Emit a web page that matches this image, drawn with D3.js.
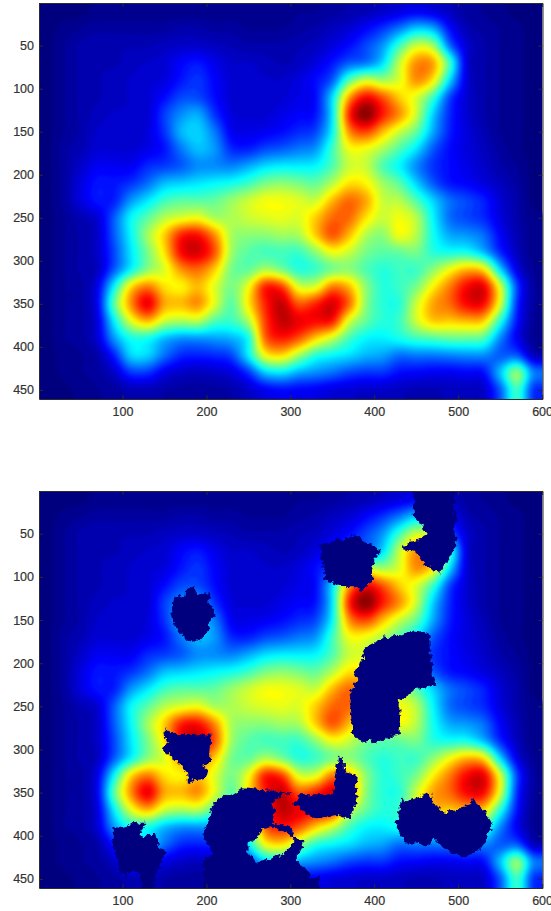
<!DOCTYPE html>
<html>
<head>
<meta charset="utf-8">
<script src="https://cdn.jsdelivr.net/npm/d3@7"></script>
<style>
  html, body { margin: 0; padding: 0; background: #fff; }
  svg { display: block; }
  .tick text { font-family: "Liberation Sans", sans-serif; font-size: 12.5px; fill: #333; stroke: #333; stroke-width: 0.2px; }
  .tick line, .domain { stroke: #2b2b2b; }
</style>
</head>
<body>
<svg id="chart" width="551" height="911"></svg>
<script>
// heat values, 0-100 on the jet scale
// one row every 20 units of y (10..450), one column every 20 units of x (10..590)
const heatRows = [
  [1,1,1,2,2,2,2,2,2,2,2,2,2,2,2,3,3,4,5,6,8,10,12,10,7,4,3,2,1,1],
  [1,2,3,4,4,4,4,4,5,5,4,4,3,3,3,4,5,7,9,13,18,25,33,30,14,6,4,3,2,1],
  [1,3,5,6,6,6,6,7,8,8,7,6,5,5,5,6,7,10,14,20,28,44,58,54,24,9,5,3,2,1],
  [1,3,5,6,6,7,8,9,13,15,11,8,8,7,6,7,10,15,22,25,35,57,74,72,44,10,5,3,2,1],
  [1,3,5,6,7,8,9,10,15,18,13,9,8,8,8,10,14,22,46,58,54,60,74,65,35,10,5,3,2,1],
  [1,3,5,6,7,8,9,14,20,20,14,9,8,8,9,11,14,35,72,88,80,68,60,44,20,9,5,3,2,1],
  [1,3,5,7,8,8,9,19,27,30,18,10,9,9,11,13,15,36,84,100,86,74,58,34,17,9,5,3,2,1],
  [1,3,5,8,8,8,10,18,31,34,25,12,11,12,14,17,20,38,74,82,70,58,48,30,16,10,6,3,2,1],
  [1,4,6,9,9,9,11,15,25,32,28,17,16,20,22,25,28,44,62,62,55,46,36,22,14,10,7,4,2,1],
  [1,4,8,12,12,12,17,19,22,27,27,26,30,35,37,37,38,46,58,58,46,38,27,18,14,11,8,5,3,1],
  [1,4,10,15,15,18,24,32,34,36,38,40,44,50,52,50,48,56,66,64,54,47,34,22,15,13,10,7,4,1],
  [1,4,10,15,16,28,36,44,47,47,48,53,58,62,62,60,58,70,78,72,58,56,46,34,24,20,16,9,5,1],
  [1,3,6,9,22,38,47,56,60,62,55,55,58,60,61,60,68,78,78,66,58,62,56,38,24,20,17,10,5,2],
  [1,3,5,8,22,38,54,68,85,87,74,55,52,52,54,55,68,80,70,56,52,62,56,40,30,28,24,13,6,2],
  [1,3,5,8,20,36,50,66,88,92,80,54,47,45,45,44,52,62,58,50,47,48,50,42,40,40,32,17,7,2],
  [1,3,5,7,22,38,52,60,74,78,68,50,48,55,50,42,44,50,52,46,42,44,44,52,62,70,66,35,11,3],
  [1,3,4,11,38,66,76,66,64,70,60,50,62,85,82,60,60,76,70,52,42,44,50,64,76,88,90,60,20,4],
  [1,3,4,12,47,74,90,72,70,74,60,47,65,85,94,80,85,92,78,52,42,42,58,72,78,88,88,60,18,4],
  [1,3,4,10,37,60,70,58,55,56,46,44,55,82,94,90,88,86,60,48,42,44,58,68,68,70,68,42,15,3],
  [1,3,4,9,28,40,40,32,28,28,29,31,40,78,86,80,68,58,45,38,37,40,44,46,48,48,46,27,12,3],
  [1,2,3,5,16,34,34,24,17,16,17,20,37,62,66,54,42,38,35,31,29,24,25,25,26,27,27,22,22,7],
  [1,2,3,4,8,18,18,11,8,7,8,10,18,33,36,30,27,24,20,18,18,14,13,12,12,13,14,32,52,26],
  [0,1,2,3,4,6,6,5,4,4,4,5,8,12,14,13,12,10,9,8,8,7,6,6,7,7,8,22,44,18]
];

const xTicks = [100, 200, 300, 400, 500, 600];
const yTicks = [50, 100, 150, 200, 250, 300, 350, 400, 450];

// removed regions of the lower image, outlines in image coordinates
const regionTopBox = [[335,64],[345,61],[355,57],[367,56],[379,51],[382,56],[385,58],[396,63],[408,70],[403,74],[400,81],[398,86],[396,91],[398,102],[392,110],[385,116],[378,112],[369,112],[355,108],[341,104],[339,92],[337,81]];
const regionTopRight = [[446,-6],[497,-6],[495,12],[494,23],[498,29],[499,35],[495,39],[496,50],[498,64],[493,70],[492,75],[484,85],[478,95],[474,92],[470,93],[462,86],[454,81],[452,75],[450,71],[442,70],[434,68],[437,63],[440,60],[450,58],[462,52],[458,47],[459,44],[454,35],[449,33],[447,27],[448,12]];
const regionCentre = [[412,168],[420,170],[425,167],[434,168],[440,165],[446,162],[455,163],[466,168],[466,180],[468,193],[469,205],[470,216],[474,225],[462,228],[450,230],[448,232],[438,238],[428,243],[430,252],[430,259],[434,261],[430,264],[431,272],[430,282],[418,286],[410,290],[402,293],[394,290],[386,292],[380,288],[373,280],[374,268],[371,255],[372,243],[370,232],[371,230],[376,226],[381,220],[375,213],[380,205],[388,193],[386,188],[388,184],[396,178],[406,174]];
const regionRight = [[432,357],[440,360],[448,357],[456,354],[466,349],[468,356],[470,363],[477,366],[484,375],[490,370],[497,373],[504,367],[512,365],[518,356],[523,365],[532,372],[541,385],[538,392],[537,398],[531,410],[526,417],[517,420],[508,425],[495,421],[482,414],[476,407],[470,404],[466,411],[462,412],[450,409],[438,409],[432,400],[424,385],[429,378],[430,371]];
const regionBottom = [[243,345],[267,347],[291,349],[299,350],[305,352],[351,352],[353,332],[357,307],[365,313],[365,325],[379,330],[378,345],[379,357],[375,370],[371,381],[357,376],[343,377],[331,381],[319,373],[307,365],[301,365],[311,357],[307,352],[291,351],[277,363],[281,371],[279,385],[299,388],[305,402],[317,406],[309,421],[309,431],[321,439],[325,448],[335,448],[335,468],[196,468],[196,444],[196,429],[208,421],[201,410],[196,398],[203,382],[206,367],[213,358],[220,354],[232,352]];
const regionBottomHole = [[249,410],[259,404],[267,392],[277,390],[295,396],[305,406],[291,421],[275,427],[271,429],[259,431],[249,419]];
const regionLeft = [[89,390],[100,391],[110,388],[112,383],[120,385],[128,385],[124,392],[120,398],[126,404],[132,398],[140,398],[142,406],[144,414],[152,417],[148,427],[144,437],[138,448],[138,468],[126,468],[122,449],[116,442],[106,442],[104,450],[98,441],[94,431],[91,421],[87,408],[90,400]];
const regionMiddle = [[153,274],[156,280],[160,282],[182,282],[206,283],[205,299],[204,315],[196,319],[201,323],[198,334],[184,336],[178,340],[177,327],[170,318],[160,311],[148,301],[153,292],[150,282]];
const regionUpperLeft = [[162,123],[168,122],[175,124],[176,114],[186,112],[188,120],[197,117],[206,122],[202,127],[207,135],[211,143],[208,147],[204,151],[204,160],[197,168],[190,175],[183,175],[176,174],[169,166],[162,156],[159,147],[157,141],[160,131]];

const removedRegions = [
  [regionTopBox], [regionTopRight], [regionCentre], [regionRight],
  [regionBottom, regionBottomHole], [regionLeft], [regionMiddle], [regionUpperLeft]
];

const jetStops = [0, 12.5, 37.5, 62.5, 87.5, 100];
const jetColors = ['#00007f', '#0000ff', '#00ffff', '#ffff00', '#ff0000', '#7f0000'];

let jet = d3.scaleLinear().domain(jetStops).range(jetColors).interpolate(d3.interpolateRgb);
let x = d3.scaleLinear().domain([0.5, 600.5]).range([39, 542.5]);

let svg = d3.select('#chart');
let defs = svg.append('defs');

defs.append('filter').attr('id', 'soften')
  .append('feGaussianBlur')
  .attr('stdDeviation', 1.5)
  .attr('color-interpolation-filters', 'sRGB');

// frayed edge for the removed regions
let rough = defs.append('filter').attr('id', 'rough')
  .attr('x', '-5%').attr('y', '-5%').attr('width', '110%').attr('height', '110%')
  .attr('color-interpolation-filters', 'sRGB');
rough.append('feTurbulence')
  .attr('type', 'fractalNoise').attr('baseFrequency', 0.22).attr('numOctaves', 2).attr('seed', 4)
  .attr('result', 'noise');
rough.append('feDisplacementMap')
  .attr('in', 'SourceGraphic').attr('in2', 'noise').attr('scale', 7)
  .attr('xChannelSelector', 'R').attr('yChannelSelector', 'G');

// repeat the outer rows and columns so the contours run past the frame
const pad = 2;
let paddedRows = d3.range(-pad, heatRows.length + pad).map((r) => {
  let row = heatRows[Math.max(0, Math.min(heatRows.length - 1, r))];
  return d3.range(-pad, row.length + pad).map((c) => row[Math.max(0, Math.min(row.length - 1, c))]);
});

// catmull-rom resampling, only to draw the coarse table as a smooth surface
const factor = 5;
function resample(values) {
  let out = [];
  for (let i = 0; i < values.length - 1; i++) {
    let p0 = values[Math.max(0, i - 1)], p1 = values[i], p2 = values[i + 1];
    let p3 = values[Math.min(values.length - 1, i + 2)];
    for (let k = 0; k < factor; k++) {
      let t = k / factor;
      out.push(0.5 * (2 * p1 + (p2 - p0) * t + (2 * p0 - 5 * p1 + 4 * p2 - p3) * t * t + (3 * p1 - p0 - 3 * p2 + p3) * t * t * t));
    }
  }
  out.push(values[values.length - 1]);
  return out;
}
let fineRows = paddedRows.map(resample);
let fineCols = d3.range(fineRows[0].length).map((c) => resample(fineRows.map((r) => r[c])));
let gridW = fineCols.length;
let gridH = fineCols[0].length;
let gridValues = [];
for (let r = 0; r < gridH; r++) {
  for (let c = 0; c < gridW; c++) gridValues.push(fineCols[c][r]);
}

let contours = d3.contours()
  .size([gridW, gridH])
  .thresholds(d3.range(100 / 64, 100, 100 / 64))(gridValues);

function drawPanel(top, bottom, name, regions) {
  let y = d3.scaleLinear().domain([0.5, 460.5]).range([top, bottom]);

  defs.append('clipPath').attr('id', 'clip-' + name)
    .append('rect')
    .attr('x', x(0.5)).attr('y', top)
    .attr('width', x(600.5) - x(0.5)).attr('height', bottom - top);

  let gridPath = d3.geoPath(d3.geoTransform({
    point(gx, gy) {
      this.stream.point(
        x(((gx - 0.5) / factor - pad) * 20 + 10),
        y(((gy - 0.5) / factor - pad) * 20 + 10)
      );
    }
  }));

  let plot = svg.append('g').attr('clip-path', `url(#clip-${name})`);

  plot.append('rect')
    .attr('x', x(0.5)).attr('y', top)
    .attr('width', x(600.5) - x(0.5)).attr('height', bottom - top)
    .attr('fill', jetColors[0]);

  plot.append('g').attr('filter', 'url(#soften)')
    .selectAll('path')
    .data(contours)
    .join('path')
    .attr('d', gridPath)
    .attr('fill', (d) => jet(d.value));

  let line = d3.line().x((d) => x(d[0])).y((d) => y(d[1]));
  plot.append('g').attr('filter', 'url(#rough)')
    .selectAll('path')
    .data(regions)
    .join('path')
    .attr('fill', jetColors[0])
    .attr('fill-rule', 'evenodd')
    .attr('d', (rings) => rings.map((ring) => line(ring) + 'Z').join(''));

  // ticks point inwards on all four sides, labels only left and bottom
  svg.append('g').attr('transform', `translate(0,${bottom})`)
    .call(d3.axisBottom(x).tickValues(xTicks).tickSizeInner(-4).tickSizeOuter(0).tickPadding(8));
  svg.append('g').attr('transform', `translate(0,${top})`)
    .call(d3.axisTop(x).tickValues(xTicks).tickSizeInner(-4).tickSizeOuter(0).tickFormat(''));
  svg.append('g').attr('transform', `translate(${x(0.5)},0)`)
    .call(d3.axisLeft(y).tickValues(yTicks).tickSizeInner(-4).tickSizeOuter(0).tickPadding(5));
  svg.append('g').attr('transform', `translate(${x(600.5)},0)`)
    .call(d3.axisRight(y).tickValues(yTicks).tickSizeInner(-4).tickSizeOuter(0).tickFormat(''));
}

drawPanel(3, 399, 'upper', []);
drawPanel(491, 888, 'lower', removedRegions);
</script>
</body>
</html>
